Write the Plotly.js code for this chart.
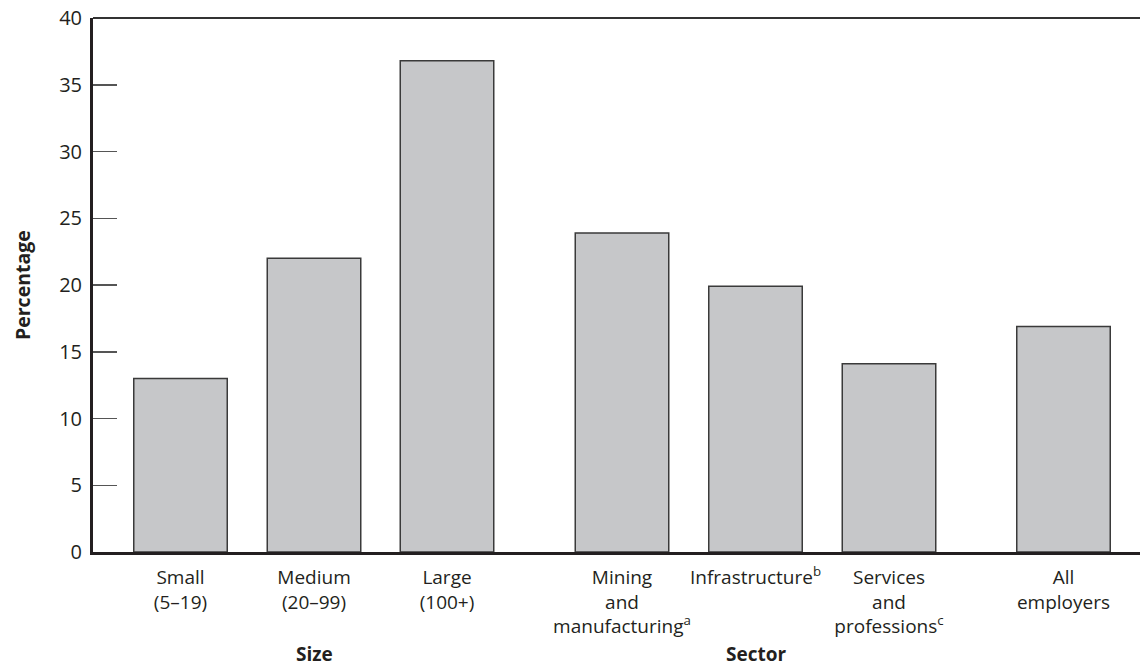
<!DOCTYPE html>
<html>
<head>
<meta charset="utf-8">
<script src="https://cdn.plot.ly/plotly-3.0.1.min.js"></script>
<style>html,body{margin:0;padding:0;background:#fff;}#chart{width:1140px;height:667px;}</style>
</head>
<body>
<div id="chart"></div>
<script>
// Data
const categories = [
  "Small<br>(5–19)",
  "Medium<br>(20–99)",
  "Large<br>(100+)",
  "Mining<br>and<br>manufacturing<sup>a</sup>",
  "Infrastructure<sup>b</sup>",
  "Services<br>and<br>professions<sup>c</sup>",
  "All<br>employers"
];
const percentages = [13.0, 22.0, 36.8, 23.9, 19.9, 14.1, 16.9];
const groupTitles = ["Size", "Sector"];

// Layout helpers (positions on the x axis, in axis units)
const xPositions = [87.5, 221, 354, 529, 662.5, 796, 970.5];
const groupTitleIndex = [1, 4];

const textColor = "#231f20";
const fontFamily = "'Open Sans', 'Noto Sans', sans-serif";

const trace = {
  type: "bar",
  x: xPositions,
  y: percentages,
  width: 93.5,
  marker: { color: "#c6c7c9", line: { color: "#3a3a3a", width: 1.5 } },
  hoverinfo: "skip"
};

const annotations = groupTitles.map((t, i) => ({
  text: "<b>" + t + "</b>",
  xref: "x", yref: "paper",
  x: xPositions[groupTitleIndex[i]], y: 0,
  yanchor: "middle", xanchor: "center",
  yshift: -102, showarrow: false,
  font: { family: fontFamily, size: 19, color: textColor }
}));
annotations.push({
  text: "<b>Percentage</b>",
  xref: "paper", yref: "paper",
  x: 0, y: 0.5, xshift: -71,
  xanchor: "center", yanchor: "middle",
  textangle: -90, showarrow: false,
  font: { family: fontFamily, size: 19.5, color: textColor }
});

const layout = {
  width: 1140, height: 667,
  margin: { l: 93, r: 0, t: 18, b: 115 },
  paper_bgcolor: "#fff", plot_bgcolor: "#fff",
  showlegend: false,
  font: { family: fontFamily, size: 19, color: textColor },
  xaxis: {
    range: [0, 1047],
    tickvals: xPositions,
    ticktext: categories,
    tickangle: 0,
    ticks: "",
    ticklabelstandoff: 6,
    showgrid: false, zeroline: false,
    showline: true, linecolor: "#231f20", linewidth: 3,
    fixedrange: true,
    tickfont: { family: fontFamily, size: 19, color: textColor }
  },
  yaxis: {
    range: [0, 40],
    tickvals: [0, 5, 10, 15, 20, 25, 30, 35, 40],
    ticks: "inside", ticklen: 24, tickwidth: 1.5, tickcolor: "#555",
    ticklabelstandoff: 4,
    showgrid: false, zeroline: false,
    showline: true, linecolor: "#231f20", linewidth: 3,
    fixedrange: true,
    tickfont: { family: fontFamily, size: 20, color: textColor }
  },
  shapes: [{
    type: "line", xref: "paper", yref: "paper",
    x0: 0, x1: 1, y0: 1, y1: 1,
    line: { color: "#333", width: 2 }
  }],
  annotations: annotations
};

Plotly.newPlot("chart", [trace], layout, { displayModeBar: false, staticPlot: true });
</script>
</body>
</html>
